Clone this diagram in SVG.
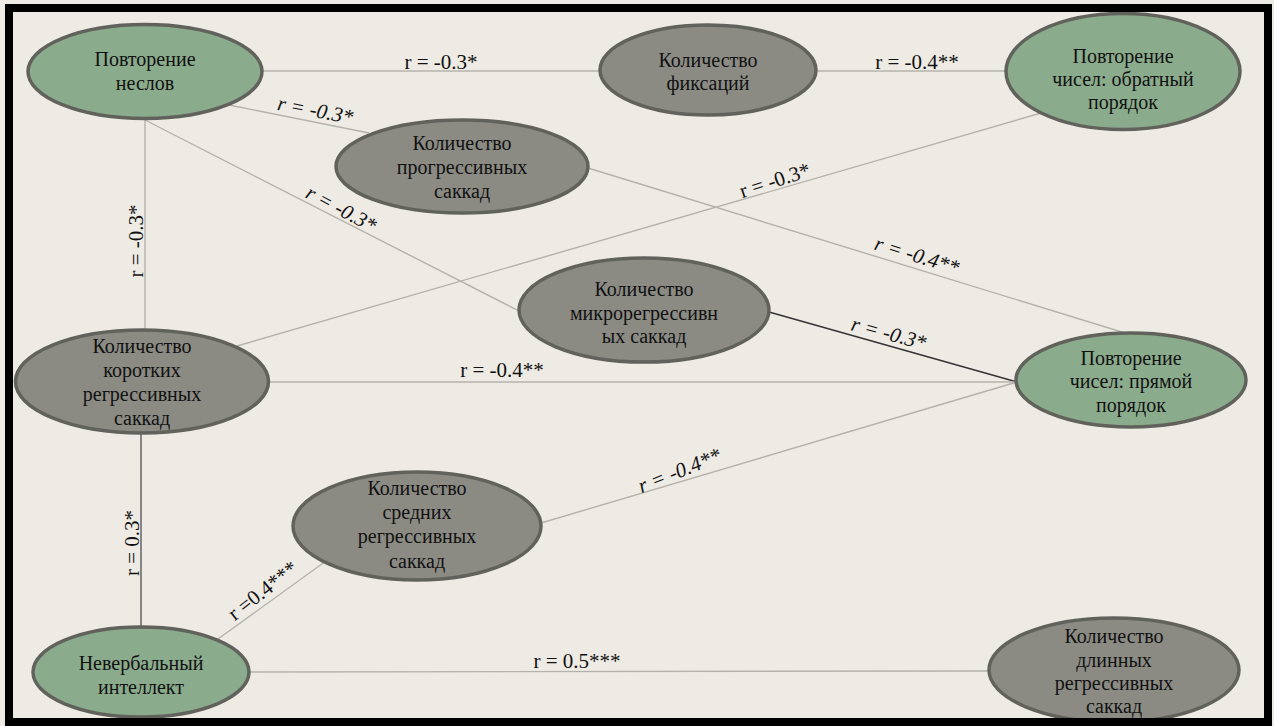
<svg xmlns="http://www.w3.org/2000/svg" width="1274" height="726" viewBox="0 0 1274 726">
<style>
.bg{fill:#EEEBE4}
.g{fill:#8BAB8D;stroke:#62625C;stroke-width:3.5}
.d{fill:#8B8B84;stroke:#62625C;stroke-width:3.5}
.t{font-family:"Liberation Serif","Times New Roman",serif;font-size:20px;fill:#111;text-anchor:middle}
.lb{font-family:"Liberation Serif","Times New Roman",serif;font-size:21px;fill:#111;text-anchor:middle}
.it{font-style:italic}
.c{stroke:#B4B3AB;stroke-width:1.4;fill:none}
.k{stroke:#333;stroke-width:1.3;fill:none}
.m{stroke:#5A5A5A;stroke-width:1.4;fill:none}
</style>
<rect class="bg" x="0" y="0" width="1274" height="726"/>
<g id="connectors">
<line class="c" x1="261" y1="71" x2="600" y2="71"/>
<line class="c" x1="816" y1="71" x2="1006" y2="71"/>
<line class="c" x1="229" y1="105" x2="369" y2="133"/>
<line class="c" x1="145" y1="120" x2="145" y2="330"/>
<line class="c" x1="145" y1="120" x2="519" y2="311"/>
<line class="c" x1="1041" y1="113" x2="237" y2="346"/>
<line class="c" x1="588" y1="168" x2="1125" y2="333"/>
<line class="k" x1="769" y1="312" x2="1017" y2="382"/>
<line class="c" x1="268" y1="382" x2="1017" y2="382"/>
<line class="c" x1="1017" y1="382" x2="541" y2="523"/>
<line class="m" x1="141" y1="433" x2="141" y2="626"/>
<line class="c" x1="326" y1="561" x2="218" y2="639"/>
<line class="c" x1="249" y1="672" x2="989" y2="671"/>
<text class="lb" x="441" y="69">r = -0.3*</text>
<text class="lb" x="917" y="69">r = -0.4**</text>
<text class="lb it" transform="translate(314,117) rotate(11)">r = -0.3*</text>
<text class="lb it" transform="translate(338,215) rotate(28)">r = -0.3*</text>
<text class="lb" transform="translate(143,241) rotate(-90)">r = -0.3*</text>
<text class="lb" transform="translate(777,187) rotate(-18)">r = -0.3*</text>
<text class="lb it" transform="translate(915,262) rotate(17)">r = -0.4**</text>
<text class="lb it" transform="translate(887,340) rotate(15)">r = -0.3*</text>
<text class="lb" x="502" y="377">r = -0.4**</text>
<text class="lb it" transform="translate(682,477) rotate(-22)">r = -0.4**</text>
<text class="lb" transform="translate(139,543) rotate(-90)">r = 0.3*</text>
<text class="lb" transform="translate(267,596) rotate(-38)">r =0.4***</text>
<text class="lb" x="577" y="668">r = 0.5***</text>
</g>
<g id="n-povtorenie-neslov">
<ellipse class="g" cx="145" cy="71.5" rx="117" ry="47"/>
<text class="t" x="145" y="66">Повторение</text>
<text class="t" x="145" y="90">неслов</text>
</g>
<g id="n-fiksacii">
<ellipse class="d" cx="708" cy="70" rx="108" ry="45"/>
<text class="t" x="708" y="67">Количество</text>
<text class="t" x="708" y="90">фиксаций</text>
</g>
<g id="n-obratnyi">
<ellipse class="g" cx="1123" cy="71.5" rx="117" ry="58"/>
<text class="t" x="1123" y="63">Повторение</text>
<text class="t" x="1123" y="86">чисел: обратный</text>
<text class="t" x="1123" y="109">порядок</text>
</g>
<g id="n-progressivnyh">
<ellipse class="d" cx="462" cy="166.5" rx="126" ry="46.5"/>
<text class="t" x="462" y="150">Количество</text>
<text class="t" x="462" y="174">прогрессивных</text>
<text class="t" x="462" y="198">саккад</text>
</g>
<g id="n-mikro">
<ellipse class="d" cx="644" cy="310" rx="125" ry="52"/>
<text class="t" x="644" y="296">Количество</text>
<text class="t" x="644" y="320">микрорегрессивн</text>
<text class="t" x="644" y="343">ых саккад</text>
</g>
<g id="n-korotkih">
<ellipse class="d" cx="142" cy="381.5" rx="126.5" ry="51.5"/>
<text class="t" x="142" y="353">Количество</text>
<text class="t" x="142" y="377">коротких</text>
<text class="t" x="142" y="401">регрессивных</text>
<text class="t" x="142" y="425">саккад</text>
</g>
<g id="n-pryamoi">
<ellipse class="g" cx="1131" cy="380" rx="115" ry="47"/>
<text class="t" x="1131" y="365">Повторение</text>
<text class="t" x="1131" y="388">чисел: прямой</text>
<text class="t" x="1131" y="412">порядок</text>
</g>
<g id="n-srednih">
<ellipse class="d" cx="417" cy="526" rx="124" ry="54"/>
<text class="t" x="417" y="495">Количество</text>
<text class="t" x="417" y="519">средних</text>
<text class="t" x="417" y="543">регрессивных</text>
<text class="t" x="417" y="568">саккад</text>
</g>
<g id="n-neverbalnyi">
<ellipse class="g" cx="141" cy="672" rx="108" ry="45"/>
<text class="t" x="141" y="670">Невербальный</text>
<text class="t" x="141" y="694">интеллект</text>
</g>
<g id="n-dlinnyh">
<ellipse class="d" cx="1114" cy="670" rx="125" ry="52"/>
<text class="t" x="1114" y="643">Количество</text>
<text class="t" x="1114" y="667">длинных</text>
<text class="t" x="1114" y="690">регрессивных</text>
<text class="t" x="1114" y="713">саккад</text>
</g>
<rect x="9" y="8" width="1259" height="714" fill="none" stroke="#000" stroke-width="8"/>
</svg>
